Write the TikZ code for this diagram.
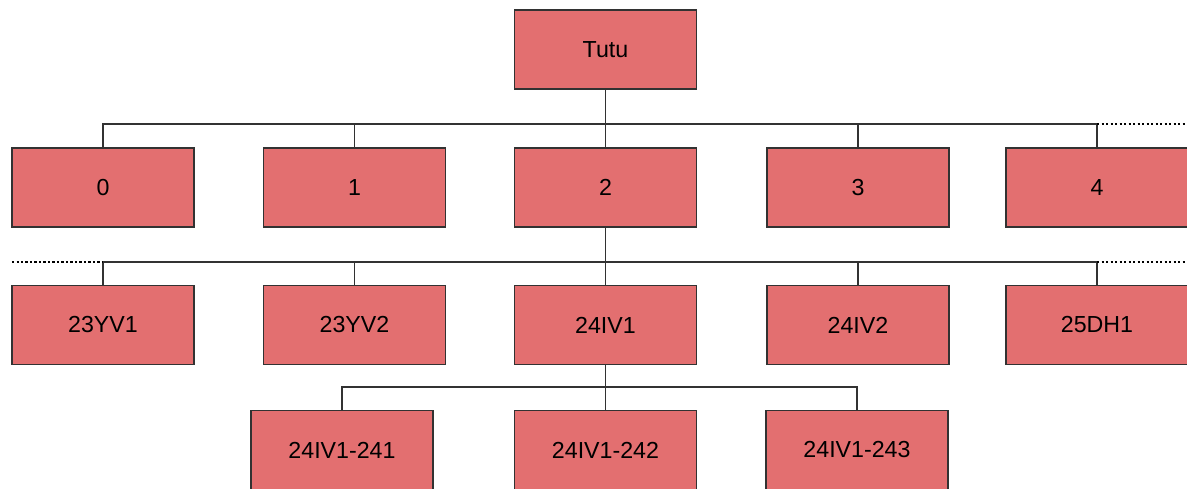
\documentclass[tikz,border=0pt]{standalone}
\usepackage{fontspec}
\setmainfont{Liberation Sans}
\definecolor{boxred}{RGB}{227,111,112}
\definecolor{linegray}{RGB}{50,50,50}
\tikzset{
  orgbox/.style={draw=linegray, line width=0.8pt, fill=boxred, minimum width=4.55cm,
                 minimum height=1.975cm, inner sep=0pt, font=\fontsize{16.5}{18}\selectfont},
  bus/.style={linegray, line width=1pt},
  busmore/.style={black, line width=1.6pt, dash pattern=on 1.6pt off 1.6pt}
}
\begin{document}
\begin{tikzpicture}[x=0.025cm, y=-0.025cm]
    \useasboundingbox (0,0) rectangle (1187,488);

    % Raiz
    \node[orgbox] (tutu) at (605.5,49.5) {Tutu};

    % Primer nivel
    \node[orgbox] (n0) at (103,187.5) {0};
    \node[orgbox] (n1) at (354.5,187.5) {1};
    \node[orgbox] (n2) at (605.5,187.5) {2};
    \node[orgbox] (n3) at (858,187.5) {3};
    \node[orgbox] (n4) at (1097,187.5) {4};

    % Segundo nivel (hijos de 2)
    \node[orgbox] (yv1) at (103,325) {23YV1};
    \node[orgbox] (yv2) at (354.5,325) {23YV2};
    \node[orgbox] (iv1) at (605.5,325) {24IV1};
    \node[orgbox] (iv2) at (858,325) {24IV2};
    \node[orgbox] (dh1) at (1097,325) {25DH1};

    % Tercer nivel (hijos de 24IV1)
    \node[orgbox] (s241) at (342,450) {24IV1-241};
    \node[orgbox] (s242) at (605.5,450) {24IV1-242};
    \node[orgbox] (s243) at (857,450) {24IV1-243};

    % Barras de conexion
    \coordinate (b1) at (0,124);
    \coordinate (b2) at (0,262);
    \coordinate (b3) at (0,387);

    \draw[bus] (tutu.south) -- (tutu |- b1);
    \draw[bus] (n0.north) |- (b1 -| n4) -- (n4.north);
    \foreach \n in {n1,n2,n3}
        \draw[bus] (\n.north) -- (\n |- b1);
    \draw[busmore] (b1 -| n4) -- (1187,124);

    \draw[bus] (n2.south) -- (n2 |- b2);
    \draw[bus] (yv1.north) |- (b2 -| dh1) -- (dh1.north);
    \foreach \n in {yv2,iv1,iv2}
        \draw[bus] (\n.north) -- (\n |- b2);
    \draw[busmore] (12,262) -- (b2 -| yv1);
    \draw[busmore] (b2 -| dh1) -- (1187,262);

    \draw[bus] (iv1.south) -- (iv1 |- b3);
    \draw[bus] (s241.north) |- (b3 -| s243) -- (s243.north);
    \draw[bus] (s242.north) -- (s242 |- b3);
\end{tikzpicture}
\end{document}
